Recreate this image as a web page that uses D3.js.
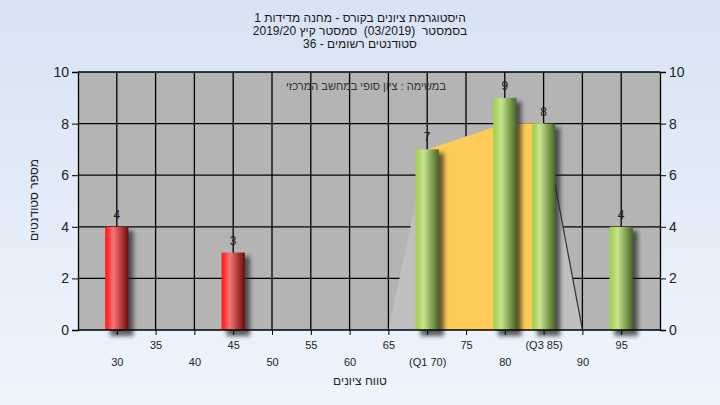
<!DOCTYPE html>
<html><head><meta charset="utf-8">
<script src="https://cdn.jsdelivr.net/npm/d3@7"></script>
<style>html,body{margin:0;padding:0;}svg{display:block;font-family:"Liberation Sans",Arial,sans-serif;}</style>
</head><body>
<svg id="c" width="720" height="405"></svg>
<script>
const titleLines = ["היסטוגרמת ציונים בקורס - מחנה מדידות 1", "בסמסטר  (03/2019)  סמסטר קיץ 2019/20", "סטודנטים רשומים - 36"];
const note = "במשימה : ציון סופי במחשב המרכזי";
const yTitle = "מספר סטודנטים";
const xTitle = "טווח ציונים";
const scores = [30, 45, 70, 80, 85, 95];
const counts = [4, 3, 7, 9, 8, 4];
const passMark = 55;
const xTicks = [30, 35, 40, 45, 50, 55, 60, 65, 70, 75, 80, 85, 90, 95];
const xTickLabels = ["30", "35", "40", "45", "50", "55", "60", "65", "(Q1 70)", "75", "80", "(Q3 85)", "90", "95"];
const yTicks = [0, 2, 4, 6, 8, 10];
const rangeX = [65, 70, 80, 85, 90];   // distribution outline
const rangeY = [0, 7, 8, 8, 0];
const iqrX = [70, 70, 80, 85, 85];     // Q1..Q3 band
const iqrY = [0, 7, 8, 8, 0];

const svg = d3.select("#c");
const W = 720, H = 405;
const L = 78, R = 660, T = 72, B = 330;
const x = d3.scaleLinear().domain([25, 100]).range([L, R]);
const y = d3.scaleLinear().domain([0, 10]).range([B, T]);
const barW = x(3) - x(0);

const defs = svg.append("defs");
const bg = defs.append("linearGradient").attr("id", "bg").attr("x1", 0).attr("y1", 0).attr("x2", 0).attr("y2", 1);
bg.append("stop").attr("offset", "0").attr("stop-color", "#d7e3f4");
bg.append("stop").attr("offset", "1").attr("stop-color", "#eff5fd");
function hGrad(id, stops) {
  const g = defs.append("linearGradient").attr("id", id).attr("x1", 0).attr("y1", 0).attr("x2", 1).attr("y2", 0);
  stops.forEach(s => g.append("stop").attr("offset", s[0]).attr("stop-color", s[1]));
}
hGrad("red", [[0, "#ff1a1a"], [0.12, "#ff3030"], [0.35, "#f07878"], [0.6, "#c84848"], [1, "#6a0c0c"]]);
hGrad("green", [[0, "#a6d050"], [0.12, "#acd45a"], [0.35, "#c8e492"], [0.6, "#94b464"], [1, "#4a6424"]]);
const f = defs.append("filter").attr("id", "sh").attr("x", "-50%").attr("y", "-20%").attr("width", "200%").attr("height", "140%");
f.append("feGaussianBlur").attr("stdDeviation", 2);

svg.append("rect").attr("width", W).attr("height", H).attr("fill", "url(#bg)");

// title
svg.append("g").selectAll("text").data(titleLines).join("text")
  .attr("x", 360).attr("y", (d, i) => 22 + i * 13)
  .attr("text-anchor", "middle").attr("direction", "rtl").style("white-space", "pre")
  .attr("font-size", 12).attr("fill", "#1a1a1a").text(d => d);

// plot background
svg.append("rect").attr("x", L).attr("y", T).attr("width", R - L).attr("height", B - T).attr("fill", "#b4b4b4");

// grid
const grid = svg.append("g").attr("stroke", "#000").attr("stroke-width", 1.3);
grid.selectAll("line.v").data(xTicks).join("line")
  .attr("x1", d => x(d)).attr("x2", d => x(d)).attr("y1", T).attr("y2", B);
grid.selectAll("line.h").data(yTicks.filter(v => v > 0)).join("line")
  .attr("x1", L).attr("x2", R).attr("y1", d => y(d)).attr("y2", d => y(d));

// distribution outline polygon
const pts = rangeX.map((v, i) => [x(v), y(rangeY[i])]);
svg.append("path").attr("d", d3.line()(pts) + "Z").attr("fill", "#c0c0c0");
svg.append("path").attr("d", d3.line()(pts.slice(3))).attr("fill", "none").attr("stroke", "#333").attr("stroke-width", 1.2);
const iqrPts = iqrX.map((v, i) => [x(v), y(iqrY[i])]);
svg.append("path").attr("d", d3.line()(iqrPts) + "Z").attr("fill", "#fecb58");

// note
svg.append("text").attr("x", 446).attr("y", 90).attr("text-anchor", "start").attr("direction", "rtl")
  .attr("font-size", 11).attr("fill", "#333").text(note);

// bars
const bars = svg.append("g");
const data = scores.map((s, i) => ({ s, c: counts[i] }));
bars.selectAll("rect.sh").data(data).join("rect")
  .attr("x", d => x(d.s) - barW / 2 + 5).attr("y", d => y(d.c) + 4)
  .attr("width", barW).attr("height", d => y(0) - y(d.c) + 2)
  .attr("fill", "#222").attr("opacity", 0.7).attr("filter", "url(#sh)");
bars.selectAll("rect.b").data(data).join("rect")
  .attr("x", d => x(d.s) - barW / 2).attr("y", d => y(d.c))
  .attr("width", barW).attr("height", d => y(0) - y(d.c))
  .attr("fill", d => d.s < passMark ? "url(#red)" : "url(#green)");
bars.selectAll("text").data(data).join("text")
  .attr("x", d => x(d.s)).attr("y", d => y(d.c) - 8)
  .attr("text-anchor", "middle").attr("font-size", 12).attr("fill", "#222").text(d => d.c);

// axes
const yl = svg.append("g").attr("transform", `translate(${L},0)`)
  .call(d3.axisLeft(y).tickValues(yTicks).tickSize(6).tickPadding(3));
const yr = svg.append("g").attr("transform", `translate(${R},0)`)
  .call(d3.axisRight(y).tickValues(yTicks).tickSize(6).tickPadding(3));
const xb = svg.append("g").attr("transform", `translate(0,${B})`)
  .call(d3.axisBottom(x).tickValues(xTicks).tickSize(5).tickFormat((d, i) => xTickLabels[i]));
[yl, yr].forEach(g => {
  g.selectAll("text").attr("font-size", 14).attr("fill", "#222").style("font-family", "\"Liberation Sans\",Arial,sans-serif");
  g.select(".domain").attr("stroke", "#000").attr("stroke-width", 1.3);
  g.selectAll(".tick line").attr("stroke", "#000");
});
xb.select(".domain").attr("stroke", "#000").attr("stroke-width", 1.3).attr("d", `M${L},0H${R}`);
xb.selectAll(".tick line").attr("stroke", "#000");
xb.selectAll("text").attr("font-size", 11).attr("fill", "#222")
  .style("font-family", "\"Liberation Sans\",Arial,sans-serif")
  .attr("dy", null).attr("y", (d, i) => i % 2 === 0 ? 36 : 19);

// axis titles
svg.append("text").attr("transform", "translate(38,200) rotate(-90)").attr("text-anchor", "middle")
  .attr("direction", "rtl").attr("font-size", 12).attr("fill", "#222").text(yTitle);
svg.append("text").attr("x", 360).attr("y", 385).attr("text-anchor", "middle")
  .attr("direction", "rtl").attr("font-size", 12).attr("fill", "#222").text(xTitle);
</script>
</body></html>
